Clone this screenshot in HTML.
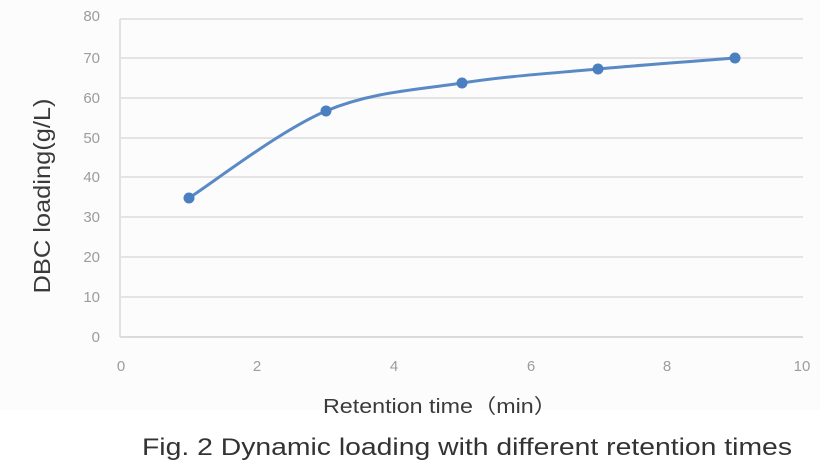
<!DOCTYPE html>
<html>
<head>
<meta charset="utf-8">
<style>
  html, body { margin: 0; padding: 0; background: #ffffff; }
  body { width: 827px; height: 471px; overflow: hidden; }
  svg { display: block; }
</style>
</head>
<body>
<svg width="827" height="471" viewBox="0 0 827 471" xmlns="http://www.w3.org/2000/svg">
  <rect x="0" y="0" width="827" height="471" fill="#ffffff"/>
  <rect x="0" y="0" width="820" height="410" fill="#fcfcfc"/>

  <!-- gridlines -->
  <g stroke="#e4e4e4" stroke-width="2">
    <line x1="120" y1="19" x2="803" y2="19"/>
    <line x1="120" y1="58" x2="803" y2="58"/>
    <line x1="120" y1="98" x2="803" y2="98"/>
    <line x1="120" y1="138" x2="803" y2="138"/>
    <line x1="120" y1="177" x2="803" y2="177"/>
    <line x1="120" y1="217" x2="803" y2="217"/>
    <line x1="120" y1="257" x2="803" y2="257"/>
    <line x1="120" y1="297" x2="803" y2="297"/>
  </g>
  <line x1="120" y1="337" x2="803" y2="337" stroke="#dadada" stroke-width="2"/>
  <line x1="120" y1="19" x2="120" y2="337" stroke="#e2e2e2" stroke-width="2"/>

  <!-- y tick labels -->
  <g font-family="Liberation Sans, sans-serif" font-size="15" fill="#9c9c9c" text-anchor="end">
    <text x="100" y="21">80</text>
    <text x="100" y="63">70</text>
    <text x="100" y="103">60</text>
    <text x="100" y="143">50</text>
    <text x="100" y="182">40</text>
    <text x="100" y="222">30</text>
    <text x="100" y="262">20</text>
    <text x="100" y="302">10</text>
    <text x="100" y="342">0</text>
  </g>

  <!-- x tick labels -->
  <g font-family="Liberation Sans, sans-serif" font-size="15" fill="#9c9c9c" text-anchor="middle">
    <text x="121" y="371">0</text>
    <text x="257" y="371">2</text>
    <text x="394" y="371">4</text>
    <text x="531" y="371">6</text>
    <text x="667" y="371">8</text>
    <text x="802" y="371">10</text>
  </g>

  <!-- series -->
  <path d="M189,198 C211.8,183.5 280.5,130.2 326,111 C371.5,91.8 416.7,90 462,83 C507.3,76 552.5,73.2 598,69 C643.5,64.8 712.2,59.8 735,58"
        fill="none" stroke="#5a8ac6" stroke-width="3" stroke-linejoin="round" stroke-linecap="round"/>
  <g fill="#4a7fc0">
    <circle cx="189" cy="198" r="5.5"/>
    <circle cx="326" cy="111" r="5.5"/>
    <circle cx="462" cy="83" r="5.5"/>
    <circle cx="598" cy="69" r="5.5"/>
    <circle cx="735" cy="58" r="5.5"/>
  </g>

  <!-- axis titles -->
  <text transform="translate(50,196) rotate(-90)" font-family="Liberation Sans, sans-serif" font-size="23" fill="#3a3a3a" text-anchor="middle" textLength="195" lengthAdjust="spacingAndGlyphs">DBC loading(g/L)</text>
  <text x="323" y="413" font-family="Liberation Sans, 'Noto Sans CJK SC', sans-serif" font-size="20" fill="#3a3a3a" textLength="234" lengthAdjust="spacingAndGlyphs">Retention time（min）</text>

  <!-- caption -->
  <text x="142" y="455" font-family="Liberation Sans, sans-serif" font-size="24" fill="#333333" textLength="650" lengthAdjust="spacingAndGlyphs">Fig. 2 Dynamic loading with different retention times</text>
</svg>
</body>
</html>
